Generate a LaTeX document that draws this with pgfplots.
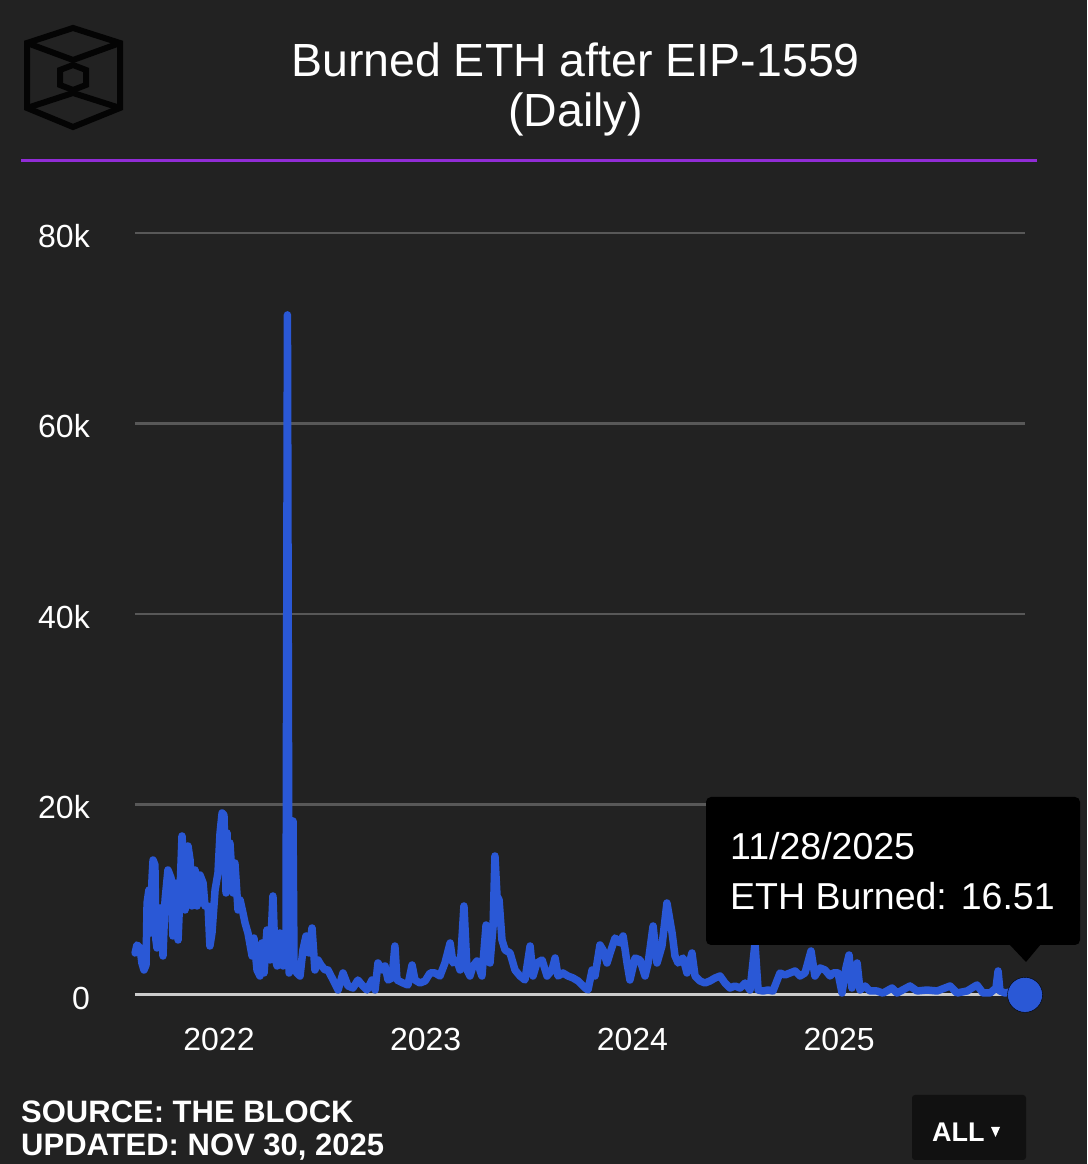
\documentclass[border=0pt]{standalone}
\usepackage{pgfplots}
\usepackage{pgfplotstable}
\pgfplotsset{compat=1.18}
\usepackage{fontspec}
\setmainfont{Liberation Sans}
\definecolor{bg}{RGB}{34,34,34}
\definecolor{ethblue}{RGB}{42,88,214}
\definecolor{gridc}{RGB}{88,88,88}
\definecolor{zeroc}{RGB}{204,204,204}
\definecolor{purp}{RGB}{145,44,214}
\definecolor{btn}{RGB}{17,17,17}
\definecolor{logoc}{RGB}{4,4,4}

\pgfplotstableread{
x y
2021.594 4410
2021.603 5250
2021.618 4935
2021.627 3360
2021.637 2625
2021.647 3150
2021.652 9660
2021.661 11025
2021.671 6510
2021.676 12285
2021.681 14175
2021.690 13650
2021.695 5775
2021.700 4935
2021.705 6510
2021.715 9135
2021.724 7035
2021.729 4095
2021.739 9975
2021.753 13125
2021.768 12285
2021.777 6195
2021.787 11760
2021.802 5775
2021.811 10710
2021.821 16695
2021.831 12810
2021.836 8925
2021.845 12810
2021.850 15645
2021.860 14175
2021.869 9345
2021.884 13125
2021.894 9345
2021.908 12600
2021.923 11760
2021.932 9345
2021.947 9345
2021.956 5145
2021.966 6510
2021.981 11025
2021.995 12810
2022.005 17010
2022.015 19110
2022.024 18900
2022.034 10710
2022.039 17010
2022.044 11235
2022.053 15960
2022.068 10710
2022.077 13860
2022.092 8925
2022.102 9975
2022.116 8610
2022.126 7560
2022.140 6510
2022.160 4095
2022.169 5985
2022.184 2625
2022.198 1995
2022.208 5460
2022.218 2310
2022.232 6825
2022.247 3675
2022.261 10395
2022.271 3885
2022.281 3045
2022.295 6510
2022.310 3045
2022.319 4410
2022.324 4410
2022.331 71400
2022.339 2310
2022.348 2835
2022.353 18270
2022.358 18270
2022.363 2835
2022.377 2310
2022.392 1995
2022.406 4725
2022.421 6195
2022.435 4410
2022.450 7035
2022.464 2625
2022.479 3675
2022.493 3150
2022.513 2625
2022.527 2625
2022.552 1575
2022.576 525
2022.600 2310
2022.624 945
2022.648 735
2022.672 1575
2022.692 1050
2022.716 525
2022.740 1575
2022.755 525
2022.769 3360
2022.789 2625
2022.803 3045
2022.818 1575
2022.837 1785
2022.851 5145
2022.861 1575
2022.890 1260
2022.914 1050
2022.934 3150
2022.948 1575
2022.972 1260
2022.997 1470
2023.021 2310
2023.045 2310
2023.069 1995
2023.093 3360
2023.118 5460
2023.132 3360
2023.151 3675
2023.166 2625
2023.185 9345
2023.200 2625
2023.214 1995
2023.229 3045
2023.248 3570
2023.272 1995
2023.292 7350
2023.311 3360
2023.326 7245
2023.335 14595
2023.345 10395
2023.355 9975
2023.369 5775
2023.384 4725
2023.408 4410
2023.432 2625
2023.456 1995
2023.480 1575
2023.505 5145
2023.519 1995
2023.538 3360
2023.563 3675
2023.587 1995
2023.611 2625
2023.626 3885
2023.640 1995
2023.664 2310
2023.688 1995
2023.713 1785
2023.737 1470
2023.771 735
2023.785 525
2023.805 2625
2023.819 1995
2023.843 5250
2023.858 4725
2023.877 3360
2023.892 4410
2023.916 5985
2023.940 5460
2023.955 6195
2023.974 3360
2023.988 1575
2024.013 3885
2024.037 3675
2024.061 1995
2024.076 3360
2024.100 7245
2024.119 3360
2024.143 5145
2024.167 9660
2024.192 6510
2024.206 4095
2024.221 3360
2024.245 3885
2024.264 2310
2024.288 4410
2024.303 1995
2024.327 1470
2024.351 1260
2024.375 1470
2024.400 1785
2024.424 1995
2024.448 1260
2024.472 735
2024.496 945
2024.521 735
2024.545 1260
2024.569 525
2024.593 5400
2024.608 525
2024.632 420
2024.656 525
2024.680 420
2024.714 2310
2024.738 2100
2024.762 2310
2024.787 2520
2024.811 1995
2024.835 2310
2024.864 4620
2024.883 1995
2024.908 2835
2024.932 2625
2024.956 1995
2024.971 2310
2024.995 2310
2025.014 210
2025.033 2835
2025.048 4200
2025.062 735
2025.087 3360
2025.101 525
2025.125 945
2025.149 420
2025.183 420
2025.212 200
2025.256 735
2025.280 210
2025.343 945
2025.377 420
2025.425 525
2025.474 420
2025.537 945
2025.570 210
2025.619 420
2025.667 1050
2025.696 210
2025.730 210
2025.759 735
2025.769 2520
2025.778 420
2025.803 210
2025.827 315
2025.851 210
2025.875 315
2025.899 16.51
}\burndata

\begin{document}
\begin{tikzpicture}[x=1pt,y=1pt]
\fill[bg] (0,0) rectangle (1087,1164);
% logo
\begin{scope}[draw=logoc, line width=6pt, line join=miter]
\draw (73,1136)--(120,1121)--(120,1056)--(73,1037)--(27,1056)--(27,1121)--cycle;
\draw (27,1121)--(73,1104)--(120,1121);
\draw (27,1056)--(73,1071)--(120,1056);
\draw (73,1099)--(86,1094)--(86,1079)--(73,1074)--(60,1079)--(60,1094)--cycle;
\end{scope}
% title
\node[anchor=base, text=white, inner sep=0pt, font=\fontsize{46.5}{50}\selectfont] at (575.5,1087) {Burned ETH after EIP-1559};
\node[anchor=base, text=white, inner sep=0pt, font=\fontsize{46.5}{50}\selectfont] at (575.5,1037) {(Daily)};
\draw[purp, line width=3pt] (21,1003)--(1037,1003);

\begin{axis}[
  at={(135pt,169pt)}, anchor=south west,
  width=890pt, height=762pt, scale only axis,
  xmin=2021.5936, xmax=2025.8993, ymin=0, ymax=80000,
  clip=false,
  axis line style={draw=none},
  major tick length=0pt,
  xtick={2022,2023,2024,2025}, xticklabels={2022,2023,2024,2025},
  ytick={20000,40000,60000,80000}, yticklabels={20k,40k,60k,80k},
  extra y ticks={0}, extra y tick labels={0},
  extra y tick style={major grid style={zeroc, line width=3pt}, grid style={zeroc, line width=3pt}},
  ymajorgrids,
  major grid style={gridc, line width=2.5pt},
  scaled ticks=false,
  /pgf/number format/assume math mode=true,
  tick label style={text=white, font=\fontsize{32}{38}\selectfont, inner sep=0pt},
  yticklabel style={anchor=east, xshift=-45pt, yshift=-3pt},
  xticklabel style={anchor=north, yshift=-33pt},
]
\addplot[ethblue, line width=7.5pt, line join=round, line cap=round, mark=none] table[x=x,y=y] {\burndata};
\addplot[only marks, mark=*, mark size=17.5pt, mark options={fill=ethblue, draw=none}] coordinates {(2025.8993,16.51)};
\end{axis}

% tooltip
\fill[black, rounded corners=5pt] (706,219) rectangle (1080,367);
\fill[black] (1009,220) -- (1041,220) -- (1026,202) -- cycle;
\node[anchor=base west, text=white, inner sep=0pt, font=\fontsize{37.5}{44}\selectfont] at (730,304) {11/28/2025};
\node[anchor=base west, text=white, inner sep=0pt, font=\fontsize{37.5}{44}\selectfont] at (730,254) {ETH Burned: 16.51};

% footer
\node[anchor=base west, text=white, inner sep=0pt, font=\bfseries\fontsize{31}{34}\selectfont] at (21,41) {SOURCE: THE BLOCK};
\node[anchor=base west, text=white, inner sep=0pt, font=\bfseries\fontsize{31}{34}\selectfont] at (21,9) {UPDATED: NOV 30, 2025};
\fill[btn, rounded corners=3pt] (912,4) rectangle (1026,69);
\node[anchor=base west, text=white, inner sep=0pt, font=\bfseries\fontsize{27}{30}\selectfont] at (932,23) {ALL};
\fill[white] (991,37) -- (1000,37) -- (995.5,27) -- cycle;
\end{tikzpicture}
\end{document}
